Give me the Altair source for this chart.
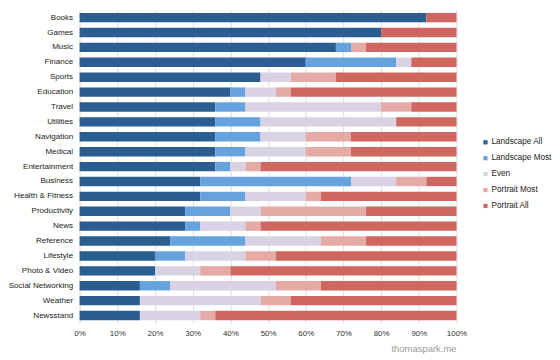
import altair as alt
import pandas as pd

categories = ["Books", "Games", "Music", "Finance", "Sports", "Education", "Travel",
              "Utilities", "Navigation", "Medical", "Entertainment", "Business",
              "Health & Fitness", "Productivity", "News", "Reference", "Lifestyle",
              "Photo & Video", "Social Networking", "Weather", "Newsstand"]
series = ["Landscape All", "Landscape Most", "Even", "Portrait Most", "Portrait All"]

landscape_all  = [92, 80, 68, 60, 48, 40, 36, 36, 36, 36, 36, 32, 32, 28, 28, 24, 20, 20, 16, 16, 16]
landscape_most = [0, 0, 4, 24, 0, 4, 8, 12, 12, 8, 4, 40, 12, 12, 4, 20, 8, 0, 8, 0, 0]
even           = [0, 0, 0, 4, 8, 8, 36, 36, 12, 16, 4, 12, 16, 8, 12, 20, 16, 12, 28, 32, 16]
portrait_most  = [0, 0, 4, 0, 12, 4, 8, 0, 12, 12, 4, 8, 4, 28, 4, 12, 8, 8, 12, 8, 4]
portrait_all   = [8, 20, 24, 12, 32, 44, 12, 16, 28, 28, 52, 8, 36, 24, 52, 24, 48, 60, 36, 44, 64]

colors = ["#2b5d90", "#66a2dd", "#d9d1e4", "#e4aaa6", "#cf665f"]
x_ticks = [0, 0.1, 0.2, 0.3, 0.4, 0.5, 0.6, 0.7, 0.8, 0.9, 1.0]

rows = []
for i, c in enumerate(categories):
    for j, (s, vals) in enumerate(zip(series, [landscape_all, landscape_most, even,
                                               portrait_most, portrait_all])):
        rows.append({"category": c, "series": s, "order": j, "value": vals[i] / 100})
df = pd.DataFrame(rows)

FONT = "Liberation Sans"

chart = alt.Chart(df).mark_bar().encode(
    x=alt.X("value:Q", stack="zero",
            scale=alt.Scale(domain=[0, 1], nice=False),
            axis=alt.Axis(format="%", values=x_ticks, title=None, domain=False,
                          ticks=False, labelPadding=6, labelFontSize=8,
                          labelColor="#333", labelFont=FONT, gridColor="#dddddd",
                          labelFlush=False)),
    y=alt.Y("category:N", sort=categories, title=None,
            scale=alt.Scale(paddingInner=0.37, paddingOuter=0.2),
            axis=alt.Axis(domain=False, ticks=False, labelPadding=7,
                          labelFontSize=8.1, labelColor="#222", labelFont=FONT)),
    color=alt.Color("series:N", sort=series,
                    scale=alt.Scale(domain=series, range=colors),
                    legend=alt.Legend(title=None, orient="none", legendX=404, legendY=129,
                                      symbolType="square", symbolSize=18,
                                      symbolStrokeWidth=0, labelFontSize=8.2,
                                      labelFont=FONT, labelColor="#222",
                                      rowPadding=7, labelOffset=2)),
    order=alt.Order("order:Q", sort="ascending"),
).properties(
    width=379, height=315,
    padding={"left": 0, "top": 1, "right": 0, "bottom": 0},
    title=alt.Title("thomaspark.me", orient="bottom", anchor="end", frame="group",
                    color="#999999", fontSize=9.5, font=FONT, fontWeight="normal",
                    offset=7),
).configure_view(stroke=None)

chart.save("out.html", embed_options={"renderer": "svg", "actions": False})
